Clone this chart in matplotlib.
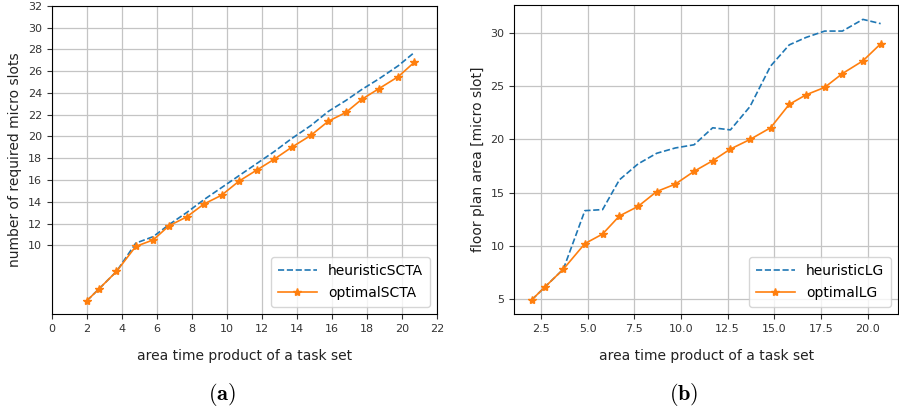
#!/usr/bin/env python3
"""Two-panel comparison of heuristic vs optimal placement."""

import matplotlib
matplotlib.use("Agg")
import matplotlib.pyplot as plt

# (a) number of required micro slots
x_a = [2.0, 2.7, 3.7, 4.8, 5.8, 6.7, 7.7, 8.7, 9.7, 10.7, 11.7, 12.7, 13.7,
       14.8, 15.8, 16.8, 17.7, 18.7, 19.8, 20.7]
heur_a = [4.9, 6.0, 7.6, 10.2, 10.8, 11.9, 13.0, 14.2, 15.3, 16.4, 17.5, 18.6,
          19.8, 21.0, 22.3, 23.3, 24.3, 25.3, 26.5, 27.7]
opt_a = [4.9, 6.0, 7.6, 9.9, 10.5, 11.8, 12.6, 13.8, 14.6, 15.9, 16.9, 17.9,
         19.0, 20.1, 21.4, 22.2, 23.4, 24.4, 25.5, 26.8]

# (b) floor plan area
x_b = [2.0, 2.7, 3.7, 4.85, 5.8, 6.7, 7.7, 8.7, 9.7, 10.7, 11.7, 12.65, 13.7,
       14.8, 15.8, 16.7, 17.7, 18.65, 19.75, 20.7]
heur_b = [4.9, 6.1, 7.8, 13.3, 13.4, 16.2, 17.7, 18.7, 19.2, 19.5, 21.1, 20.9,
          23.1, 26.9, 28.9, 29.6, 30.2, 30.2, 31.3, 30.9]
opt_b = [4.9, 6.1, 7.8, 10.2, 11.1, 12.8, 13.7, 15.1, 15.8, 17.0, 18.0, 19.1,
         20.0, 21.1, 23.3, 24.2, 24.9, 26.2, 27.4, 29.0]


def draw(ax, x, heur, opt, names, ylabel):
    ax.plot(x, heur, "--", color="tab:blue", lw=1.2, label=names[0])
    ax.plot(x, opt, "-", color="tab:orange", lw=1.2, marker="*", ms=6,
            label=names[1])
    ax.set_xlabel("area time product of a task set", fontsize=10, labelpad=11,
                  color="#222222")
    ax.set_ylabel(ylabel, fontsize=10, color="#222222")
    ax.tick_params(labelsize=8, colors="#333333", labelcolor="#333333")
    ax.grid(True, color="#c4c4c4", lw=0.9)
    ax.legend(loc="lower right", fontsize=10, handlelength=2.8,
              borderpad=0.5, labelspacing=0.6)


def main() -> None:
    plt.rcParams["mathtext.fontset"] = "cm"
    fig = plt.figure(figsize=(8.99, 4.12), dpi=100)
    ax1 = fig.add_axes([0.0575, 0.238, 0.4285, 0.748])
    ax2 = fig.add_axes([0.572, 0.238, 0.427, 0.749])

    draw(ax1, x_a, heur_a, opt_a, ["heuristicSCTA", "optimalSCTA"],
         "number of required micro slots")
    ax1.set_xlim(0, 22)
    ax1.set_xticks(range(0, 23, 2))
    ax1.set_ylim(3.7, 32)
    ax1.set_yticks(range(10, 33, 2))

    draw(ax2, x_b, heur_b, opt_b, ["heuristicLG", "optimalLG"],
         "floor plan area [micro slot]")

    fig.text(0.247, 0.042, r"$\mathbf{(a)}$", ha="center", va="center",
             fontsize=16)
    fig.text(0.76, 0.042, r"$\mathbf{(b)}$", ha="center", va="center",
             fontsize=16)

    fig.savefig("out.png", dpi=100)
    plt.close(fig)


if __name__ == "__main__":
    main()
